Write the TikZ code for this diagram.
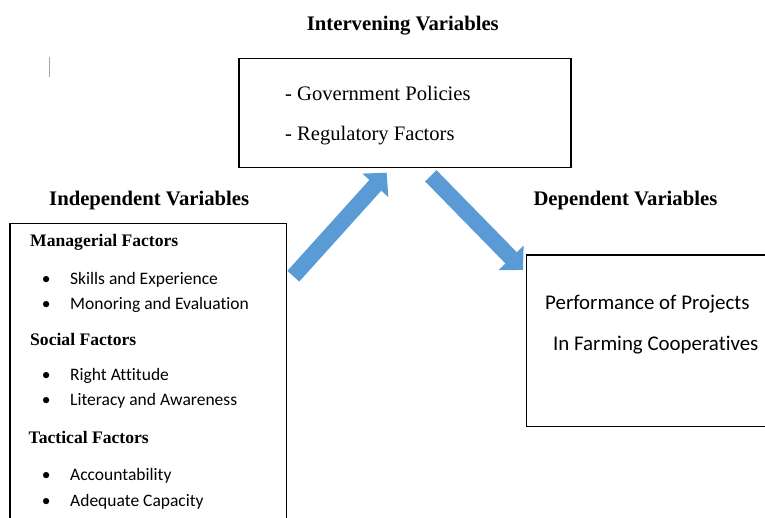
\documentclass[tikz,border=0pt]{standalone}
\usepackage{fontspec}
\setmainfont{Liberation Serif}
\newfontfamily\calibri[Ligatures=NoCommon]{Carlito}
\usetikzlibrary{arrows.meta}
\definecolor{arrowblue}{RGB}{91,155,213}

\tikzset{heading/.style={inner sep=0pt,anchor=base west,font=\fontsize{20.7}{24}\selectfont\bfseries},
         subhead/.style={inner sep=0pt,anchor=base west,font=\fontsize{17.6}{21}\selectfont\bfseries},
         bodytext/.style={inner sep=0pt,anchor=base west,font=\fontsize{20.6}{24}\selectfont},
         bullettext/.style={inner sep=0pt,anchor=base west,font=\calibri\fontsize{17.5}{21}\selectfont},
         resulttext/.style={inner sep=0pt,anchor=base west,font=\calibri\fontsize{20.9}{25}\selectfont},
         boxline/.style={line width=1.5pt,black},
         fatarrow/.style={arrowblue,line width=16pt,-{Triangle[length=17pt,width=34pt]}}}

\begin{document}
\begin{tikzpicture}[x=1pt,y=-1pt]
    \useasboundingbox (0,0) rectangle (765,518);
    \draw[gray!70,line width=0.8pt] (49.3,57.3) -- (49.3,76.7);
    % intervening
    \node[heading] (ivtitle) at (306.7,31) {Intervening Variables};
    \draw[boxline] (239,58.3) rectangle (571,167.7);
    \node[bodytext] (policies) at (285,100.7) {- Government Policies};
    \node[bodytext] (regulatory) at (285,140.7) {- Regulatory Factors};
    % independent
    \node[heading] (indtitle) at (49,205.4) {Independent Variables};
    \draw[boxline] (10,518) -- (10,223.3) -- (286.7,223.3) -- (286.7,518);
    \node[subhead] (managerial) at (30,246.7) {Managerial Factors};
    \node[subhead] (social) at (30,345.7) {Social Factors};
    \node[subhead] (tactical) at (28.5,443.3) {Tactical Factors};
    \foreach \ypos/\txt [count=\i] in {284.3/Skills and Experience,310/Monoring and Evaluation,
        380/Right Attitude,405.7/Literacy and Awareness,480.7/Accountability,506/Adequate Capacity}{
        \node[bullettext,anchor=base] (dot\i) at (46.3,\ypos) {\textbullet};
        \node[bullettext] (entry\i) at (70,\ypos) {\txt};
    }
    % dependent
    \node[heading] (deptitle) at (533.3,206) {Dependent Variables};
    \draw[boxline] (765,255) -- (526.7,255) -- (526.7,426.7) -- (765,426.7);
    \node[resulttext] (perf) at (545,310) {Performance of Projects};
    \node[resulttext] (coops) at (553,350) {In Farming Cooperatives};
    % arrows
    \coordinate (upfrom) at (293.3,276.2);
    \coordinate (upto) at (386.7,172.7);
    \coordinate (downfrom) at (430.8,175.8);
    \coordinate (downto) at (523,270);
    \draw[fatarrow] (upfrom) -- (upto);
    \draw[fatarrow] (downfrom) -- (downto);
\end{tikzpicture}
\end{document}
